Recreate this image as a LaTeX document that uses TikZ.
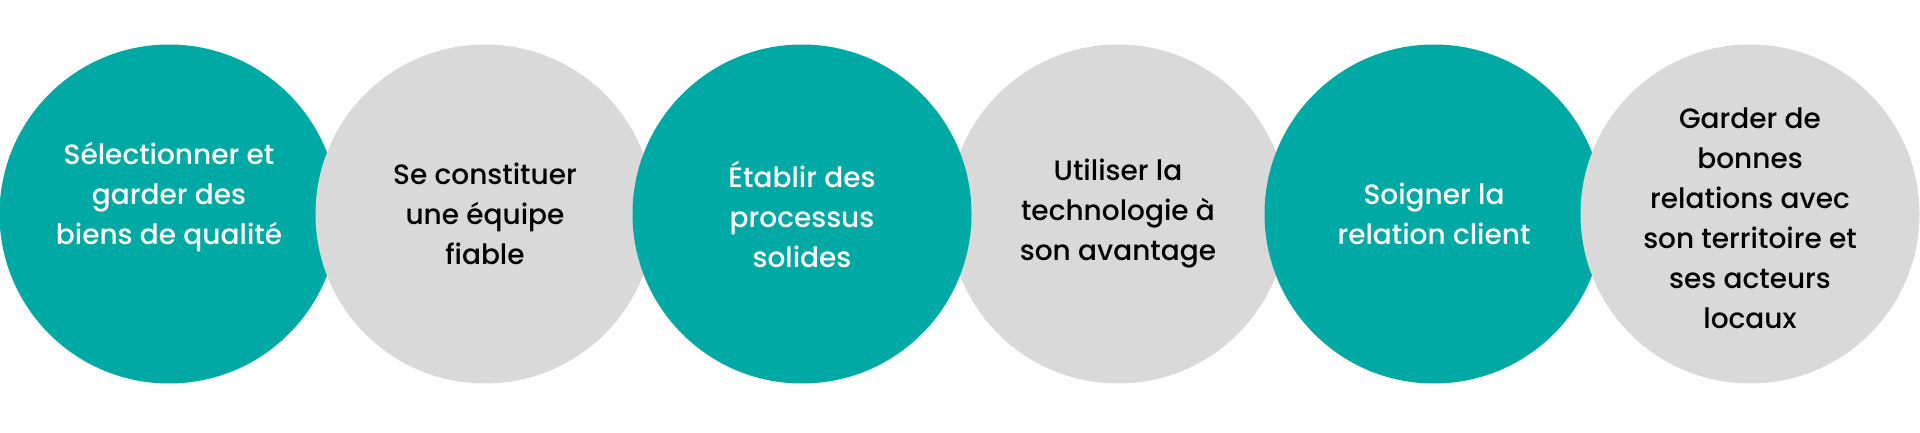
\documentclass[tikz,border=0pt]{standalone}
\usepackage{fontspec}
\setmainfont{Poppins}[UprightFont=* Medium]
\definecolor{tealc}{HTML}{00A9A4}
\definecolor{greyc}{HTML}{D9D9D9}
\begin{document}
\begin{tikzpicture}[x=1pt,y=1pt,
  disc/.style={circle, minimum size=339pt, inner sep=0pt},
  tealdisc/.style={disc, fill=tealc},
  greydisc/.style={disc, fill=greyc},
  lab/.style={align=center, font=\fontsize{28}{40}\selectfont, inner sep=0pt},
  wlab/.style={lab, text=white},
  blab/.style={lab, text=black}]
\useasboundingbox (0,0) rectangle (1920,432);
\fill[white] (0,0) rectangle (1920,432);
% discs (stacking order as in the reference)
\node[tealdisc] (c1) at (169,218) {};
\node[greydisc] (c2) at (485,218) {};
\node[greydisc] (c4) at (1118,218) {};
\node[tealdisc] (c3) at (802,218) {};
\node[tealdisc] (c5) at (1434,218) {};
\node[greydisc] (c6) at (1750,218) {};
% texts
\node[wlab] (t1) at ([yshift=17pt]c1.center) {Sélectionner et\\garder des\\biens de qualité};
\node[blab] (t2) at (c2.center) {Se constituer\\une équipe\\fiable};
\node[wlab] (t3) at (c3.center) {Établir des\\processus\\solides};
\node[blab] (t4) at (c4.center) {Utiliser la\\technologie à\\son avantage};
\node[wlab] (t5) at (c5.center) {Soigner la\\relation client};
\node[blab] (t6) at ([yshift=-4pt]c6.center) {Garder de\\bonnes\\relations avec\\son territoire et\\ses acteurs\\locaux};
\end{tikzpicture}
\end{document}
